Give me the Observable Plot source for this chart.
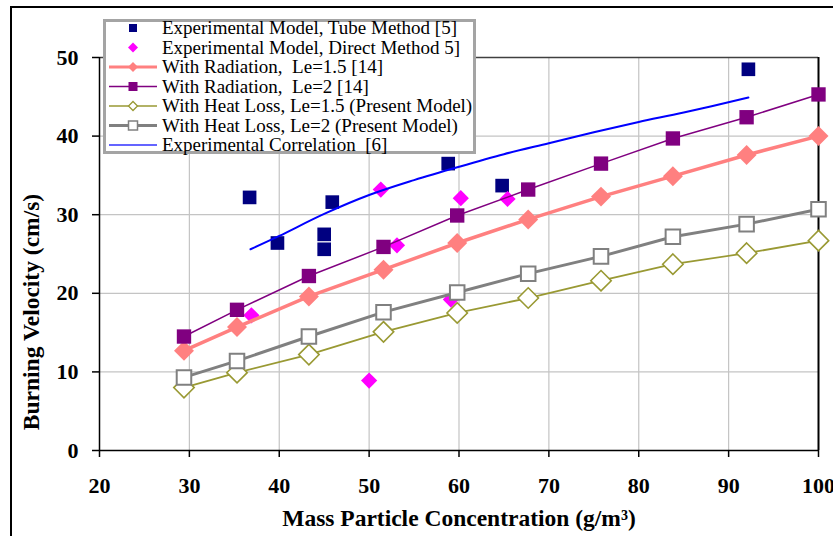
<!DOCTYPE html>
<html>
<head>
<meta charset="utf-8">
<script src="https://cdn.jsdelivr.net/npm/d3@7"></script>
<script src="https://cdn.jsdelivr.net/npm/@observablehq/plot@0.6"></script>
<style>
  html, body { margin: 0; padding: 0; background: #fff; }
  #wrap { position: relative; width: 833px; height: 536px; overflow: hidden; background: #fff; }
  #outer { position: absolute; left: 10px; top: 6px; width: 900px; height: 600px; border: 2px solid #000; box-sizing: border-box; }
  #chart { position: absolute; left: 0; top: 0; }
  #legend { position: absolute; left: 0; top: 0; pointer-events: none; }
</style>
</head>
<body>
<div id="wrap">
  <div id="outer"></div>
  <div id="chart"></div>
  <svg id="legend" width="833" height="536"></svg>
</div>
<script>
// ---- Data ----
const xTicks = [20, 30, 40, 50, 60, 70, 80, 90, 100];
const yTicks = [0, 10, 20, 30, 40, 50];

const modelX   = [29.4, 35.3, 43.3, 51.6, 59.8, 67.7, 75.8, 83.8, 92.0, 100];
const radLe15  = [12.7, 15.7, 19.6, 23.0, 26.4, 29.4, 32.3, 34.9, 37.6, 40.0];
const radLe2   = [14.5, 17.9, 22.2, 25.9, 29.9, 33.2, 36.5, 39.7, 42.4, 45.3];
const heatLe15 = [8.0, 9.9, 12.2, 15.1, 17.5, 19.4, 21.6, 23.7, 25.1, 26.7];
const heatLe2  = [9.3, 11.4, 14.5, 17.6, 20.1, 22.5, 24.7, 27.2, 28.8, 30.7];

const tubeX = [36.7, 39.8, 45.0, 45.0, 45.9, 58.8, 64.8, 92.2];
const tubeY = [32.2, 26.4, 27.5, 25.6, 31.6, 36.5, 33.7, 48.5];

const directX = [36.9, 50.0, 51.3, 53.1, 59.1, 60.2, 65.4];
const directY = [17.2, 8.9, 33.2, 26.1, 19.2, 32.1, 32.0];

const corrX = [36.8, 40, 45, 50, 55, 60, 65, 70, 75, 80, 85, 92.2];
const corrY = [25.6, 27.3, 30.1, 32.5, 34.4, 36.1, 37.7, 39.1, 40.5, 41.8, 43.0, 44.9];

const legendLabels = [
  "Experimental Model, Tube Method [5]",
  "Experimental Model, Direct Method 5]",
  "With Radiation,  Le=1.5 [14]",
  "With Radiation,  Le=2 [14]",
  "With Heat Loss, Le=1.5 (Present Model)",
  "With Heat Loss, Le=2 (Present Model)",
  "Experimental Correlation  [6]"
];

// ---- Build tables ----
const pts = (xs, ys) => xs.map((x, i) => ({x, y: ys[i]}));
const tube = pts(tubeX, tubeY);
const direct = pts(directX, directY);
const r15 = pts(modelX, radLe15);
const r2 = pts(modelX, radLe2);
const h15 = pts(modelX, heatLe15);
const h2 = pts(modelX, heatLe2);
const corr = pts(corrX, corrY);

const serif = "'Liberation Serif', 'Times New Roman', Times, serif";

const plot = Plot.plot({
  width: 833,
  height: 536,
  marginLeft: 99,
  marginRight: 15,
  marginTop: 57,
  marginBottom: 86,
  x: {domain: [20, 100], ticks: xTicks},
  y: {domain: [0, 50], ticks: yTicks},
  style: {fontFamily: serif, background: "transparent", color: "#000", overflow: "visible"},
  marks: [
    Plot.gridX(xTicks.filter(t => t > 20 && t < 100), {stroke: "#c4c4c4", strokeOpacity: 1, strokeWidth: 1.2}),
    Plot.gridY(yTicks.filter(t => t > 0 && t < 50), {stroke: "#c4c4c4", strokeOpacity: 1, strokeWidth: 1.2}),
    Plot.ruleY([50], {stroke: "#404040", strokeWidth: 1.5}),
    Plot.ruleX([100], {stroke: "#000", strokeWidth: 2}),
    Plot.axisX({ticks: xTicks, tickSize: 7, tickPadding: 20, fontSize: 22, fontWeight: "bold", label: null, strokeWidth: 1.5}),
    Plot.axisY({ticks: yTicks, tickSize: 7, tickPadding: 14, fontSize: 22, fontWeight: "bold", label: null, strokeWidth: 1.5}),
    Plot.ruleX([20], {stroke: "#000", strokeWidth: 1.5}),
    Plot.ruleY([0], {stroke: "#000", strokeWidth: 1.5}),
    // experimental tube
    Plot.dot(tube, {x: "x", y: "y", symbol: "square", r: 7.7, fill: "#000080"}),
    // experimental direct
    Plot.dot(direct, {x: "x", y: "y", symbol: "diamond2", r: 7.3, fill: "#ff00ff"}),
    // radiation Le=1.5
    Plot.line(r15, {x: "x", y: "y", stroke: "#ff8080", strokeWidth: 3.5}),
    Plot.dot(r15, {x: "x", y: "y", symbol: "diamond2", r: 9, fill: "#ff8080"}),
    // radiation Le=2
    Plot.line(r2, {x: "x", y: "y", stroke: "#800080", strokeWidth: 1.5}),
    Plot.dot(r2, {x: "x", y: "y", symbol: "square", r: 8.1, fill: "#800080"}),
    // heat loss Le=1.5
    Plot.line(h15, {x: "x", y: "y", stroke: "#999933", strokeWidth: 1.8}),
    Plot.dot(h15, {x: "x", y: "y", symbol: "diamond2", r: 9.2, fill: "#fff", stroke: "#999933", strokeWidth: 1.6}),
    // heat loss Le=2
    Plot.line(h2, {x: "x", y: "y", stroke: "#808080", strokeWidth: 3}),
    Plot.dot(h2, {x: "x", y: "y", symbol: "square", r: 8.2, fill: "#fff", stroke: "#808080", strokeWidth: 2}),
    // experimental correlation
    Plot.line(corr, {x: "x", y: "y", stroke: "#0000ff", strokeWidth: 2, curve: "catmull-rom"}),
    // axis titles
    Plot.text(["Burning Velocity (cm/s)"], {frameAnchor: "left", rotate: -90, dx: -68, dy: 58, fontSize: 23.5, fontWeight: "bold", textAnchor: "middle", lineAnchor: "middle", fill: "#000"}),
    Plot.text(["Mass Particle Concentration (g/m³)"], {frameAnchor: "bottom", dy: 68, fontSize: 23.5, fontWeight: "bold", textAnchor: "middle", lineAnchor: "middle", fill: "#000"})
  ]
});
document.getElementById("chart").appendChild(plot);

// ---- Legend ----
const lg = d3.select("#legend");
lg.append("rect").attr("x", 104.5).attr("y", 20.5).attr("width", 370).attr("height", 132)
  .attr("fill", "#fff").attr("stroke", "#a4a4a4").attr("stroke-width", 3);
const rowY = legendLabels.map((_, i) => 28 + i * 19.5);
const sx = 133, lx0 = 109, lx1 = 157;
const g = lg.append("g");
// row 0: navy square
g.append("rect").attr("x", sx - 4).attr("y", rowY[0] - 4).attr("width", 8).attr("height", 8).attr("fill", "#000080");
// row 1: magenta diamond
g.append("path").attr("d", `M${sx},${rowY[1]-5}L${sx+5},${rowY[1]}L${sx},${rowY[1]+5}L${sx-5},${rowY[1]}Z`).attr("fill", "#ff00ff");
// row 2: salmon line + diamond
g.append("line").attr("x1", lx0).attr("x2", lx1).attr("y1", rowY[2]).attr("y2", rowY[2]).attr("stroke", "#ff8080").attr("stroke-width", 3);
g.append("path").attr("d", `M${sx},${rowY[2]-5}L${sx+5},${rowY[2]}L${sx},${rowY[2]+5}L${sx-5},${rowY[2]}Z`).attr("fill", "#ff8080");
// row 3: purple line + square
g.append("line").attr("x1", lx0).attr("x2", lx1).attr("y1", rowY[3]).attr("y2", rowY[3]).attr("stroke", "#800080").attr("stroke-width", 1.5);
g.append("rect").attr("x", sx - 4.5).attr("y", rowY[3] - 4.5).attr("width", 9).attr("height", 9).attr("fill", "#800080");
// row 4: olive line + open diamond
g.append("line").attr("x1", lx0).attr("x2", lx1).attr("y1", rowY[4]).attr("y2", rowY[4]).attr("stroke", "#999933").attr("stroke-width", 1.5);
g.append("path").attr("d", `M${sx},${rowY[4]-4.5}L${sx+4.5},${rowY[4]}L${sx},${rowY[4]+4.5}L${sx-4.5},${rowY[4]}Z`).attr("fill", "#fff").attr("stroke", "#999933").attr("stroke-width", 1.3);
// row 5: gray line + open square
g.append("line").attr("x1", lx0).attr("x2", lx1).attr("y1", rowY[5]).attr("y2", rowY[5]).attr("stroke", "#808080").attr("stroke-width", 3);
g.append("rect").attr("x", sx - 4.5).attr("y", rowY[5] - 4.5).attr("width", 9).attr("height", 9).attr("fill", "#fff").attr("stroke", "#808080").attr("stroke-width", 1.5);
// row 6: blue line
g.append("line").attr("x1", lx0).attr("x2", lx1).attr("y1", rowY[6]).attr("y2", rowY[6]).attr("stroke", "#3030ff").attr("stroke-width", 1.5);
// labels
lg.append("g").selectAll("text").data(legendLabels).join("text")
  .attr("x", 162).attr("y", (d, i) => rowY[i] + 6)
  .attr("font-family", serif).attr("font-size", 19).attr("fill", "#000")
  .attr("xml:space", "preserve").style("white-space", "pre")
  .text(d => d);
</script>
</body>
</html>
